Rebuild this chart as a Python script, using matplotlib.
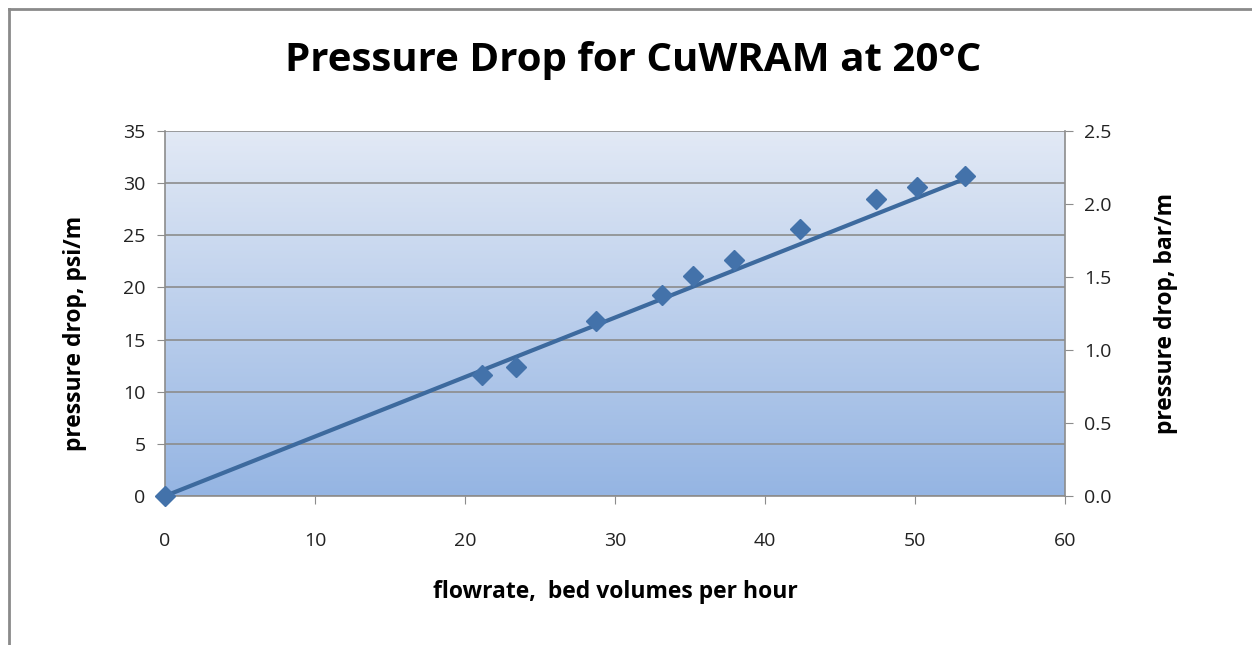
import numpy as np
import matplotlib
matplotlib.use("Agg")
import matplotlib.pyplot as plt
from matplotlib.colors import LinearSegmentedColormap
from matplotlib.lines import Line2D

# measured points: flowrate (BV/h) vs pressure drop (psi/m)
flowrate = [0, 21.1, 23.4, 28.7, 33.1, 35.2, 37.9, 42.3, 47.4, 50.1, 53.3]
dp_psi = [0, 11.6, 12.4, 16.8, 19.3, 21.1, 22.6, 25.6, 28.5, 29.6, 30.7]

# trend line series
trend_x = [0, 53.3]
trend_y = [0, 30.4]

xticks = [0, 10, 20, 30, 40, 50, 60]
yticks_psi = [0, 5, 10, 15, 20, 25, 30, 35]
yticks_bar = [0.0, 0.5, 1.0, 1.5, 2.0, 2.5]

plt.rcParams['font.family'] = ['Open Sans', 'DejaVu Sans']

W, H = 1252, 645
fig = plt.figure(figsize=(W / 100, H / 100), dpi=100)

# outer chart border (left and top visible)
fig.add_artist(Line2D([9 / W, 9 / W], [0, 1 - 9 / H], color='#8a8a8a', lw=2, transform=fig.transFigure))
fig.add_artist(Line2D([9 / W, 1], [1 - 9 / H, 1 - 9 / H], color='#8a8a8a', lw=2, transform=fig.transFigure))

ax = fig.add_axes([165 / W, 1 - 496 / H, 900 / W, 365 / H])

# gradient fill of the plot area
cmap = LinearSegmentedColormap.from_list('bg', ['#95b5e3', '#e2e9f5'])
grad = np.linspace(0, 1, 256).reshape(-1, 1)
ax.imshow(grad, cmap=cmap, origin='lower', aspect='auto',
          extent=[0, 1, 0, 1], transform=ax.transAxes, zorder=0)

ax.set_xlim(0, 60)
ax.set_ylim(0, 35)
ax.set_xticks(xticks)
ax.set_yticks(yticks_psi)
ax.yaxis.grid(True, color='#8c8c8c', lw=1.2, zorder=1)
ax.set_axisbelow(False)

for s in ['top', 'right']:
    ax.spines[s].set_visible(False)
for s in ['left', 'bottom']:
    ax.spines[s].set_color('#8c8c8c')
    ax.spines[s].set_linewidth(1.2)

ax.plot(trend_x, trend_y, color='#3d6a9e', lw=3, zorder=3, clip_on=False)
ax.plot(flowrate, dp_psi, linestyle='none', marker='D', ms=10,
        color='#4372aa', zorder=4, clip_on=False)

ax.tick_params(axis='both', direction='out', length=6, color='#8c8c8c',
               labelsize=14, labelcolor='#222222')
ax.tick_params(axis='x', pad=20)
ax.tick_params(axis='y', pad=8)

ax2 = ax.twinx()
ax2.set_ylim(0, 2.5)
ax2.set_yticks(yticks_bar)
ax2.set_yticklabels([f"{v:.1f}" for v in yticks_bar])
for s in ['top', 'left', 'bottom']:
    ax2.spines[s].set_visible(False)
ax2.spines['right'].set_color('#8c8c8c')
ax2.spines['right'].set_linewidth(1.2)
ax2.tick_params(axis='y', direction='out', length=6, color='#8c8c8c',
                labelsize=14, labelcolor='#222222', pad=8)

fig.text(633 / W, 1 - 60 / H, 'Pressure Drop for CuWRAM at 20°C', ha='center', va='center',
         fontsize=29, fontweight='bold')
fig.text(615 / W, 1 - 592 / H, 'flowrate,  bed volumes per hour', ha='center', va='center',
         fontsize=16.5, fontweight='bold')
fig.text(75 / W, 1 - 333 / H, 'pressure drop, psi/m', ha='center', va='center',
         rotation=90, fontsize=16.5, fontweight='bold')
fig.text(1166 / W, 1 - 313 / H, 'pressure drop, bar/m', ha='center', va='center',
         rotation=90, fontsize=16.5, fontweight='bold')

plt.savefig('out.png', dpi=100)
